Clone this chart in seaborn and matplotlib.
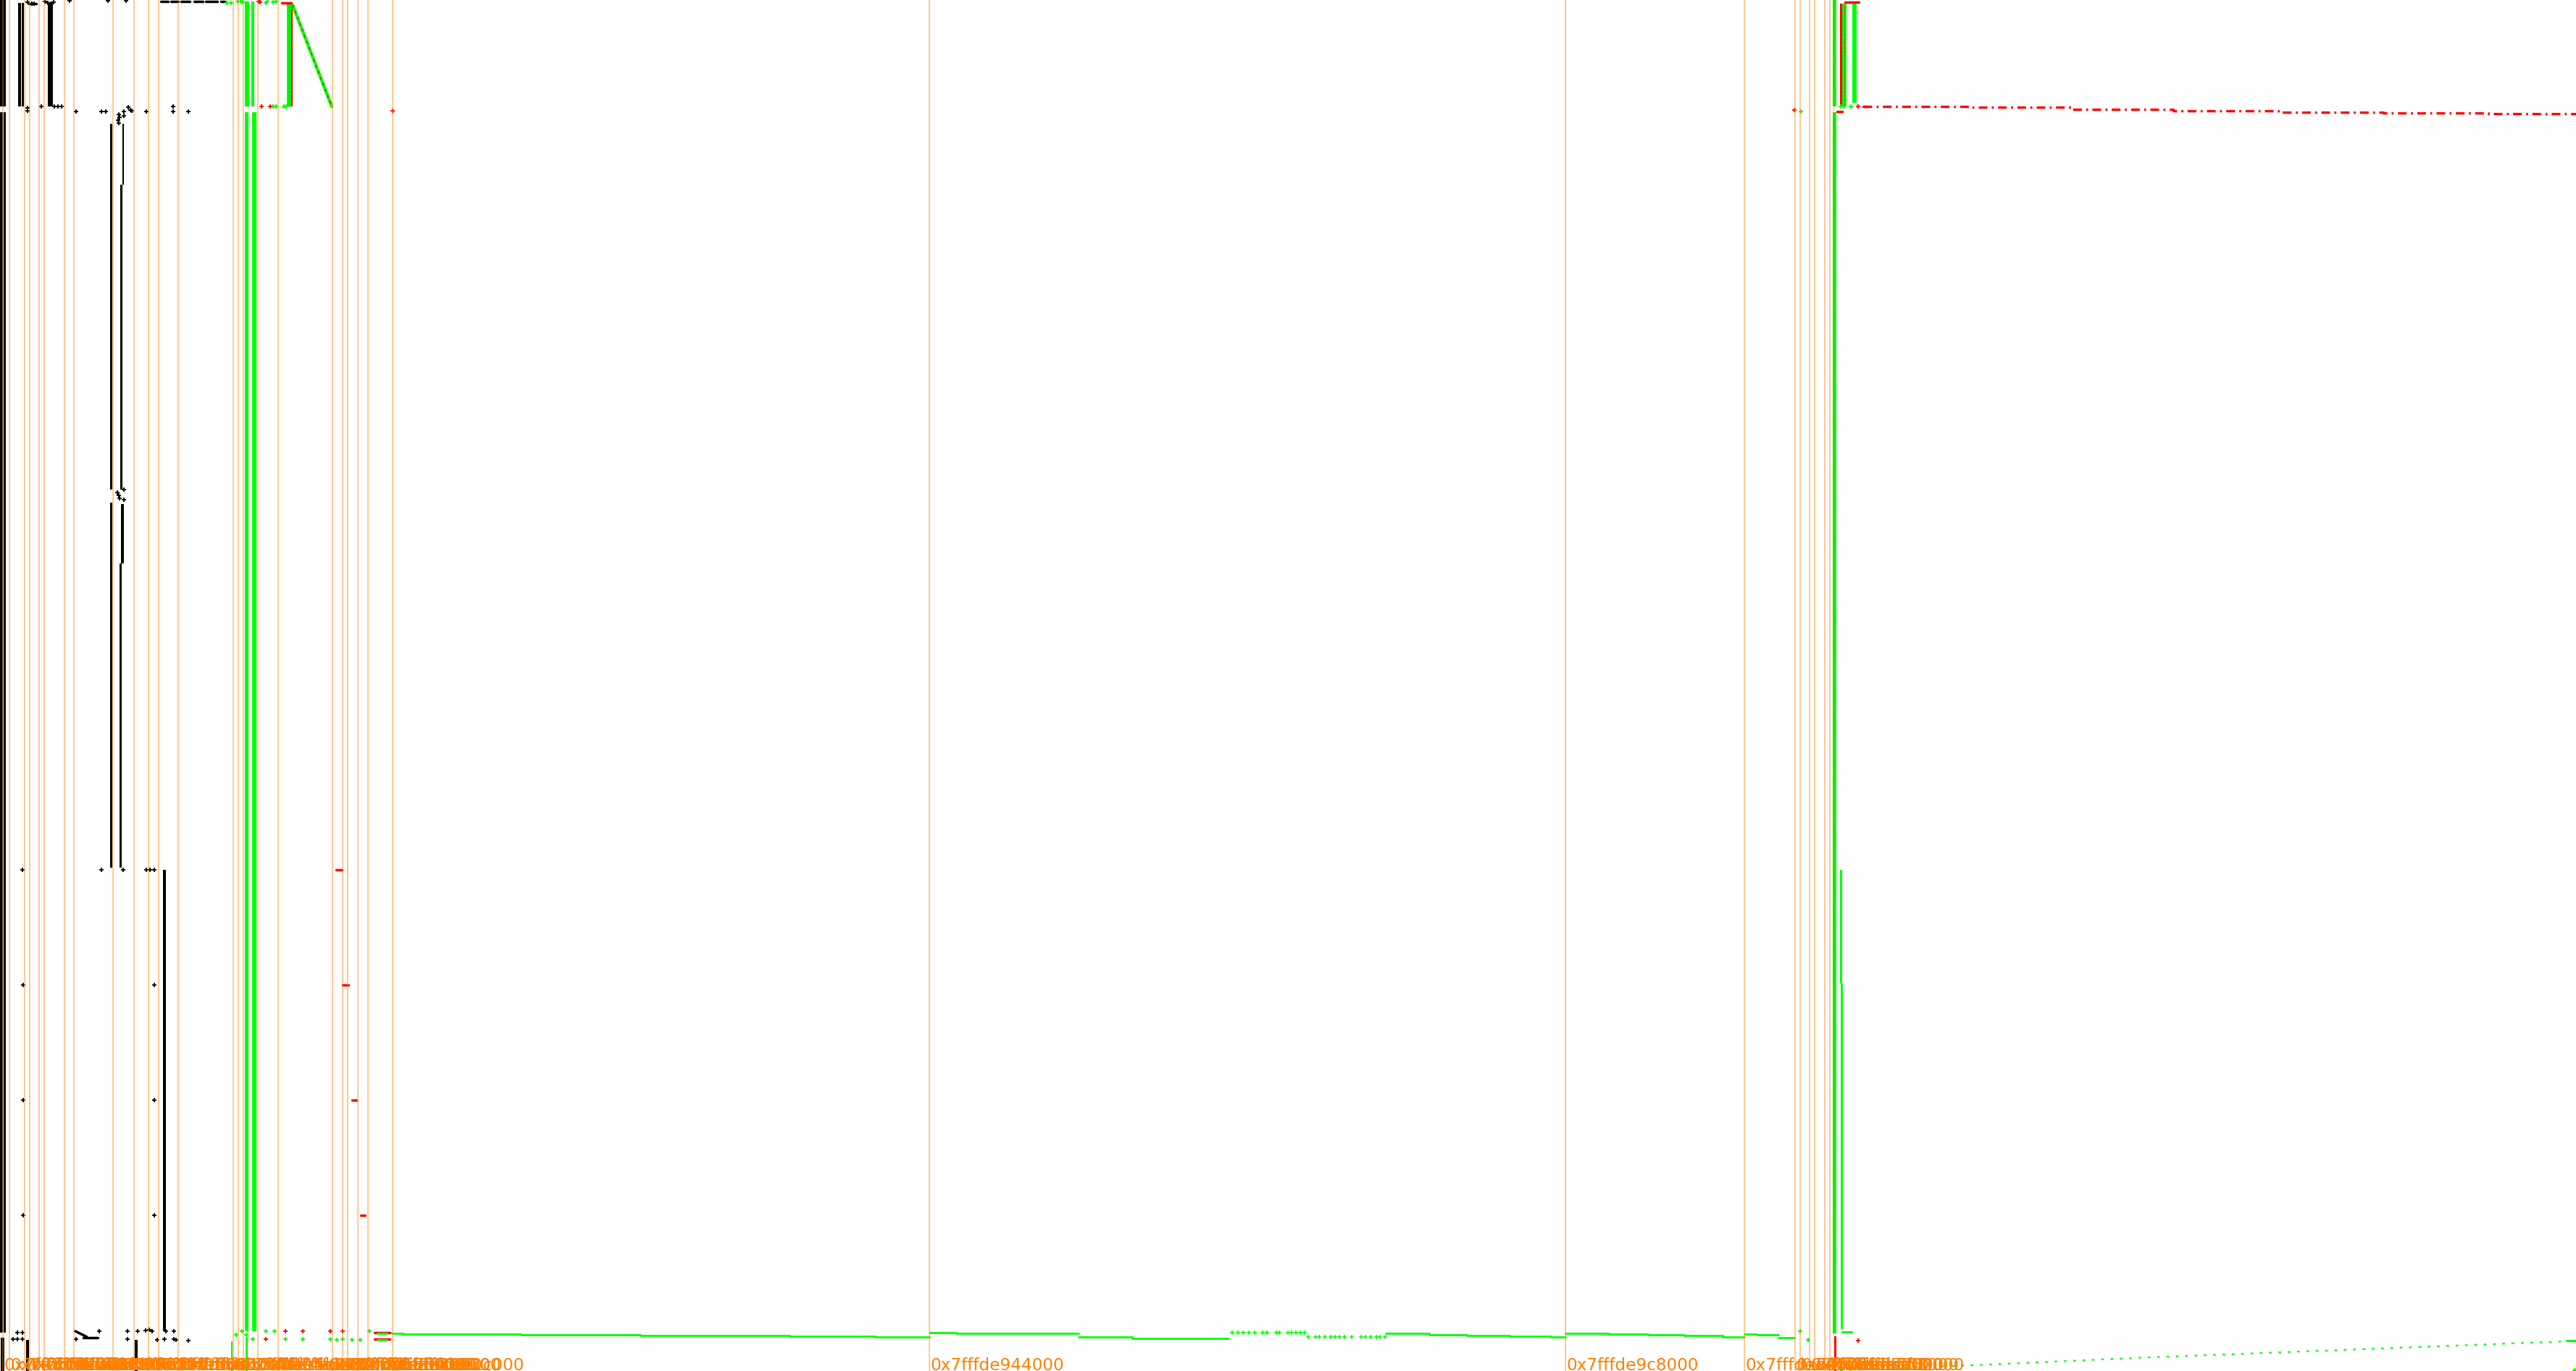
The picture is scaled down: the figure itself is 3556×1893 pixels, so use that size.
import pandas as pd
import seaborn as sns
import matplotlib.pyplot as plt

sns.set_theme(style='white')
plt.rcParams['font.family'] = ['DejaVu Sans']

W, H = 3556, 1893

# page boundaries (compressed address position) and their labels
page_pos = [4, 13, 34, 41, 54, 61, 89, 102, 156, 185, 205, 219, 246, 322, 329, 336,
            356, 384, 459, 473, 480, 494, 508, 542, 1283, 2161, 2408, 2478, 2485,
            2498, 2505, 2519, 2526]
page_labels = ['0x7fffdd400000', '0x7fffdd5f3000', '0x7fffdd7f9000', '0x7fffdd9fa000',
               '0x7fffdda1b000', '0x7fffddc1c000', '0x7fffddc3f000', '0x7fffdde3e000',
               '0x7fffdde41000', '0x7fffdde5c000', '0x7fffddf5a000', '0x7fffddf5b000',
               '0x7fffde15a000', '0x7fffde15b000', '0x7fffde4a0000', '0x7fffde4c7000',
               '0x7fffde6c6000', '0x7fffde6c7000', '0x7fffde6c8000', '0x7fffde8b0000',
               '0x7fffde8b1000', '0x7fffde8c0000', '0x7fffde8c8000', '0x7fffde8cc000',
               '0x7fffde944000', '0x7fffde9c8000', '0x7fffdea40000', '0x7fffdea5b000',
               '0x7fffdea5c000', '0x7fffdea5e000', '0x7fffdea5f000', '0x7fffdea61000',
               '0x7fffdea62000']

# dense access columns: address from/to, time from/to
black_a0 = [0, 0, 4.8, 1, 25, 30, 66, 152, 152, 168.5, 165.5, 167, 165, 225, 36, 186]
black_a1 = [8, 3.6, 7.8, 6, 28.5, 33, 73, 154.8, 154.8, 171, 168.5, 171, 168, 229, 39.5, 190]
black_t0 = [0, 155, 155, 1847, 4, 4, 4, 171, 694, 171, 255, 696, 778, 1201, 1850, 1850]
black_t1 = [147, 1840, 1840, 1893, 147, 147, 147, 676, 1198, 255, 676, 778, 1198, 1838, 1893, 1893]

green_a0 = [337.5, 346.5, 337.5, 347.5, 319, 339, 396, 2529.5, 2529.5, 2543, 2557, 2540, 2540.5]
green_a1 = [343.5, 350.5, 343, 354, 321, 342, 401.5, 2535, 2535, 2549, 2563, 2543, 2543.5]
green_t0 = [2, 2, 155, 155, 1852, 1846, 5, 0, 155, 5, 5, 1201, 1358]
green_t1 = [147, 147, 1838, 1838, 1893, 1893, 147, 147, 1841, 147, 142, 1358, 1835]

red_a0 = [401.5, 2540, 2532]
red_a1 = [404, 2543, 2535]
red_t0 = [5, 5, 1845]
red_t1 = [147, 147, 1893]

# mixed red/green streams (drawn dotted over the columns)
mix_a0 = [398.5, 2530.5, 2546]
mix_a1 = [398.5, 2530.5, 2546]
mix_t0 = [5, 0, 5]
mix_t1 = [147, 1841, 147]

# sweep from the top of one page down to the next
sweep_a = [404, 458]
sweep_t = [7, 147]

# stack-like green trace: address from/to at a time
trace_a0 = [541, 556, 719, 884, 1090, 1208, 1283, 1320, 1489, 1563, 1913, 1973, 2025,
            2084, 2141, 2161, 2221, 2275, 2325, 2378, 2408, 2425, 2455]
trace_a1 = [556, 719, 884, 1090, 1208, 1283, 1320, 1489, 1563, 1696, 1973, 2025, 2084,
            2141, 2161, 2221, 2275, 2325, 2378, 2408, 2425, 2455, 2477]
trace_t = [1840.5, 1842, 1843, 1844, 1845, 1846.3, 1840, 1841.3, 1846, 1847.7, 1841.3,
           1843, 1844, 1845.3, 1846.3, 1841.3, 1842, 1843, 1844, 1845.5, 1841.7, 1843.3, 1847]

sparse_a = [1701, 1709, 1716, 1724, 1732, 1743, 1749, 1762, 1766, 1778, 1783, 1789, 1795,
            1801, 1806, 1816, 1821, 1829, 1837, 1843, 1849, 1856, 1866, 1879, 1885, 1892,
            1900, 1905, 1912]
sparse_t = [1840] * 14 + [1846] * 15

# late red stream (step-wise) and late green stream
late_red_a = [2572, 2720, 2720, 2860, 2860, 3000, 3000, 3145, 3145, 3290, 3290, 3435, 3435, 3556]
late_red_t = [146.7, 146.7, 148.3, 148.3, 150.7, 150.7, 153, 153, 154.6, 154.6, 155.7,
              155.7, 156.7, 156.7]
late_green_a = [2540, 2702, 2957, 3205, 3543]
late_green_t = [1892, 1886, 1874.5, 1865, 1852]

# short bursts: address from/to at a time
black_burst_a0 = [222, 236, 250, 268, 284, 305, 104, 115, 40]
black_burst_a1 = [232, 246, 262, 280, 300, 310, 120, 135, 50]
black_burst_t0 = [1.5, 1.5, 1.5, 1.5, 1.5, 1.5, 1838, 1847, 5]
black_burst_t1 = [1.5, 1.5, 1.5, 1.5, 1.5, 1.5, 1846, 1847, 5]
red_burst_a0 = [464, 473, 486, 498, 517, 517, 389, 2547, 2536, 2572]
red_burst_a1 = [472, 481, 492, 504, 538, 538, 402, 2566, 2543, 2578]
red_burst_t = [1201, 1360, 1519, 1678, 1840, 1849, 4, 2.5, 153.5, 147]
green_burst_a0 = [521, 521, 2543, 3543]
green_burst_a1 = [534, 534, 2556, 3556]
green_burst_t = [1841, 1850, 1839, 1851]

# single accesses
black_pt_a = [38, 44, 47, 62, 66, 70, 74, 96, 149, 174, 38, 38, 57, 75, 80, 85, 105, 140,
              146, 171, 177, 180, 182, 202, 239, 239, 260, 164, 165, 163, 164, 171, 162,
              164, 165, 171, 171, 31, 32, 32, 32, 213, 213, 213, 140, 202, 207, 213, 170,
              18, 24, 24, 31, 31, 137, 105, 176, 176, 190, 201, 206, 210, 217, 227, 229,
              240, 240, 243, 260]
black_pt_t = [3, 5, 5, 2, 4, 5, 3, 1, 1, 1, 149, 153, 147, 147, 147, 147, 154, 154, 154,
              154, 148, 152, 153, 154, 147, 154, 154, 158, 162, 166, 170, 160, 680, 684,
              688, 676, 690, 1201, 1360, 1519, 1678, 1360, 1519, 1678, 1201, 1201, 1201,
              1201, 1201, 1849, 1840, 1849, 1840, 1849, 1838, 1849, 1838, 1849, 1838,
              1837, 1836, 1838, 1850, 1849, 1838, 1838, 1849, 1850, 1851]
red_pt_a = [361, 373, 357, 359, 542, 2477, 2565, 2565, 394, 418, 456, 473, 367]
red_pt_t = [147, 147, 2, 3, 153, 152, 147, 1851, 1838, 1838, 1838, 1838, 1849]
green_pt_a = [313, 319, 328, 332, 335, 367, 369, 377, 381, 2486, 2541, 2545, 2555, 377,
              381, 392, 395, 326, 334, 340, 349, 367, 379, 394, 418, 456, 465, 473, 486,
              497, 510, 2485, 2496, 3554]
green_pt_t = [4, 4, 2, 2, 3, 4, 2, 3, 2, 154, 147, 147, 147, 147, 147, 147, 147, 1843,
              1838, 1843, 1849, 1838, 1838, 1849, 1849, 1849, 1850, 1849, 1850, 1850,
              1838, 1838, 1850, 1892]

BLACK, GREEN, RED, BROWN = '#000000', '#00ff00', '#ff0000', '#9a5f00'

fig = plt.figure(figsize=(W / 100, H / 100), dpi=100)
ax = fig.add_axes([0, 0, 1, 1])


def columns(a0, a1, t0, t1, color):
    ax.bar(x=a0, height=[b - a for a, b in zip(t0, t1)],
           width=[b - a for a, b in zip(a0, a1)], bottom=t0,
           align='edge', color=color, lw=0, zorder=2)


def segments(a0, a1, t0, t1, color, lw, ls='-'):
    n = len(a0)
    df = pd.DataFrame({'addr': list(a0) + list(a1), 't': list(t0) + list(t1),
                       'seg': list(range(n)) * 2})
    sns.lineplot(data=df, x='addr', y='t', units='seg', estimator=None, sort=False,
                 color=color, lw=lw, linestyle=ls, ax=ax, legend=False, zorder=3)


columns(black_a0, black_a1, black_t0, black_t1, BLACK)
columns(green_a0, green_a1, green_t0, green_t1, GREEN)
columns(red_a0, red_a1, red_t0, red_t1, RED)
segments(mix_a0, mix_a1, mix_t0, mix_t1, RED, 0.7, (0, (1, 2)))
segments(mix_a0[::2], mix_a1[::2], mix_t0[::2], mix_t1[::2], BROWN, 1.0, (1.1, (1, 3)))

sns.lineplot(x=sweep_a, y=sweep_t, sort=False, estimator=None, color=GREEN, lw=3.2, ax=ax, zorder=3)
sns.lineplot(x=sweep_a, y=sweep_t, sort=False, estimator=None, color=BROWN, lw=1.6,
             linestyle=(0, (1.5, 2.5)), ax=ax, zorder=3)

segments(trace_a0, trace_a1, trace_t, trace_t, GREEN, 2.0)
segments(black_burst_a0, black_burst_a1, black_burst_t0, black_burst_t1, BLACK, 2.5)
segments(red_burst_a0, red_burst_a1, red_burst_t, red_burst_t, RED, 2.5)
segments(green_burst_a0, green_burst_a1, green_burst_t, green_burst_t, GREEN, 2.2)

sns.lineplot(x=late_red_a, y=late_red_t, sort=False, estimator=None, color=RED, lw=2.4,
             linestyle=(0, (3.6, 1.8, 0.8, 1.8)), ax=ax, zorder=3)
sns.lineplot(x=late_green_a, y=late_green_t, sort=False, estimator=None, color=GREEN, lw=1.6,
             linestyle=(0, (1.6, 4.2)), ax=ax, zorder=3)

sns.scatterplot(x=sparse_a, y=sparse_t, marker='+', s=14, linewidth=1.1, color=GREEN, ax=ax, zorder=3)
sns.scatterplot(x=black_pt_a, y=black_pt_t, marker='+', s=18, linewidth=1.3, color=BLACK, ax=ax, zorder=3)
sns.scatterplot(x=green_pt_a, y=green_pt_t, marker='+', s=18, linewidth=1.3, color=GREEN, ax=ax, zorder=3)
sns.scatterplot(x=red_pt_a, y=red_pt_t, marker='+', s=18, linewidth=1.3, color=RED, ax=ax, zorder=3)

for p, lab in zip(page_pos, page_labels):
    ax.axvline(p, color='#ff8000', alpha=0.5, lw=1.2, zorder=5)
    ax.text(p + 1.5, H - 1, lab, color='#ff8000', fontsize=16.7, ha='left', va='baseline', zorder=6)

ax.set_xlim(0, W)
ax.set_ylim(H, 0)
ax.axis('off')
fig.savefig('out.png', dpi=100, facecolor='white')
